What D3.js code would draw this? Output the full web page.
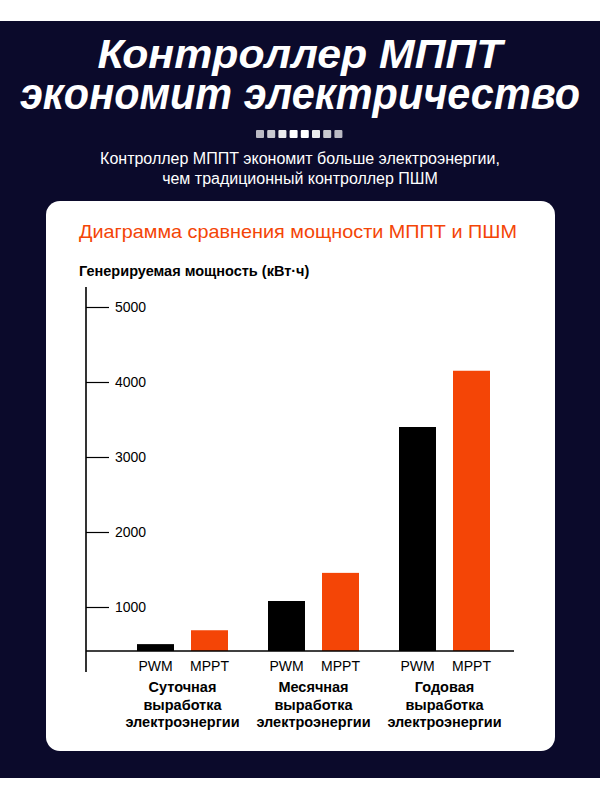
<!DOCTYPE html>
<html>
<head>
<meta charset="utf-8">
<script src="https://cdn.jsdelivr.net/npm/d3@7"></script>
<style>
  html, body { margin: 0; padding: 0; background: #fff; }
  svg { display: block; }
</style>
</head>
<body>
<script>
// chart data
const groups = ["Суточная", "Месячная", "Годовая"];
const groupLines = [
  ["Суточная", "выработка", "электроэнергии"],
  ["Месячная", "выработка", "электроэнергии"],
  ["Годовая", "выработка", "электроэнергии"]
];
const series = ["PWM", "MPPT"];
const pwmValues = [505, 1080, 3400];
const mpptValues = [690, 1455, 4150];
const tickValues = [1000, 2000, 3000, 4000, 5000];
const baseValue = 413; // value where the drawn baseline sits

const titleLines = ["Контроллер МППТ", "экономит электричество"];
const subtitleLines = ["Контроллер МППТ экономит больше электроэнергии,", "чем традиционный контроллер ПШМ"];
const chartTitle = "Диаграмма сравнения мощности МППТ и ПШМ";
const yTitle = "Генерируемая мощность (кВт·ч)";

const width = 600, height = 800;
const navy = "#0b0a2b", orange = "#f44506";
const font = "'Liberation Sans', Arial, sans-serif";

const svg = d3.select("body").append("svg")
  .attr("width", width)
  .attr("height", height);

svg.append("rect")
  .attr("x", 0).attr("y", 21)
  .attr("width", width).attr("height", 757)
  .attr("fill", navy);

// header
const titleSize = [40, 45], titleY = [68, 109], titleLen = [405, 560];
svg.selectAll("text.title")
  .data(titleLines)
  .enter().append("text")
  .attr("class", "title")
  .attr("x", 300)
  .attr("y", (d, i) => titleY[i])
  .attr("text-anchor", "middle")
  .attr("fill", "#fff")
  .attr("font-family", font)
  .attr("font-weight", "bold")
  .attr("font-style", "italic")
  .attr("font-size", (d, i) => titleSize[i])
  .attr("textLength", (d, i) => titleLen[i])
  .attr("lengthAdjust", "spacingAndGlyphs")
  .text(d => d);

const dotOpacity = [0.72, 0.78, 0.92, 1, 1, 0.92, 0.78, 0.72];
svg.selectAll("rect.dot")
  .data(dotOpacity)
  .enter().append("rect")
  .attr("class", "dot")
  .attr("x", (d, i) => 256 + i * 11.2)
  .attr("y", 130)
  .attr("width", 8).attr("height", 8)
  .attr("rx", 1)
  .attr("fill", "#fff")
  .attr("opacity", d => d);

svg.selectAll("text.sub")
  .data(subtitleLines)
  .enter().append("text")
  .attr("class", "sub")
  .attr("x", 300)
  .attr("y", (d, i) => 164 + i * 20)
  .attr("text-anchor", "middle")
  .attr("fill", "#fff")
  .attr("font-family", font)
  .attr("font-size", 16)
  .text(d => d);

// card
svg.append("rect")
  .attr("x", 46).attr("y", 201)
  .attr("width", 509).attr("height", 550)
  .attr("rx", 14)
  .attr("fill", "#fff");

svg.append("text")
  .attr("x", 79).attr("y", 238)
  .attr("fill", orange)
  .attr("font-family", font)
  .attr("font-size", 18.5)
  .attr("textLength", 438)
  .attr("lengthAdjust", "spacingAndGlyphs")
  .text(chartTitle);

svg.append("text")
  .attr("x", 79).attr("y", 276)
  .attr("fill", "#000")
  .attr("font-family", font)
  .attr("font-weight", "bold")
  .attr("font-size", 14.5)
  .text(yTitle);

// scales
const y = d3.scaleLinear().domain([0, 5000]).range([682, 307]);
const x0 = d3.scaleBand().domain(groups).range([117, 510]);
const x1 = d3.scaleBand().domain(series).range([0, 91]).paddingInner(0.315);
const inset = (x0.bandwidth() - 91) / 2;

const barData = [];
groups.forEach((g, i) => {
  barData.push({group: g, key: "PWM", value: pwmValues[i]});
  barData.push({group: g, key: "MPPT", value: mpptValues[i]});
});

const plot = svg.append("g");

plot.selectAll("rect.bar")
  .data(barData)
  .enter().append("rect")
  .attr("class", "bar")
  .attr("x", d => x0(d.group) + inset + x1(d.key))
  .attr("width", x1.bandwidth())
  .attr("y", d => y(d.value))
  .attr("height", d => y(baseValue) - y(d.value))
  .attr("fill", d => d.key === "PWM" ? "#000" : orange);

// axes
const yAxis = d3.axisRight(y)
  .tickValues(tickValues)
  .tickSize(23)
  .tickPadding(6)
  .tickFormat(d3.format("d"));

const yG = svg.append("g")
  .attr("transform", "translate(86,0)")
  .call(yAxis);
yG.select(".domain").remove();
yG.selectAll(".tick line").attr("stroke", "#000").attr("stroke-width", 1.2);
yG.selectAll(".tick text")
  .attr("font-family", font)
  .attr("font-size", 14)
  .attr("fill", "#000");

svg.append("line")
  .attr("x1", 86).attr("x2", 86)
  .attr("y1", 287).attr("y2", 672)
  .attr("stroke", "#000").attr("stroke-width", 1.6);

svg.append("line")
  .attr("x1", 86).attr("x2", 514)
  .attr("y1", y(baseValue)).attr("y2", y(baseValue))
  .attr("stroke", "#000").attr("stroke-width", 1.4);

// series labels under bars
plot.selectAll("text.key")
  .data(barData)
  .enter().append("text")
  .attr("class", "key")
  .attr("x", d => x0(d.group) + inset + x1(d.key) + x1.bandwidth() / 2)
  .attr("y", 671)
  .attr("text-anchor", "middle")
  .attr("font-family", font)
  .attr("font-size", 14)
  .text(d => d.key);

// group labels
const gl = plot.selectAll("text.group")
  .data(groups)
  .enter().append("text")
  .attr("class", "group")
  .attr("text-anchor", "middle")
  .attr("font-family", font)
  .attr("font-weight", "bold")
  .attr("font-size", 14.5);

gl.selectAll("tspan")
  .data((d, i) => groupLines[i].map(t => ({t, g: d})))
  .enter().append("tspan")
  .attr("x", d => x0(d.g) + x0.bandwidth() / 2)
  .attr("y", (d, i) => 692 + i * 17.7)
  .text(d => d.t);
</script>
</body>
</html>
